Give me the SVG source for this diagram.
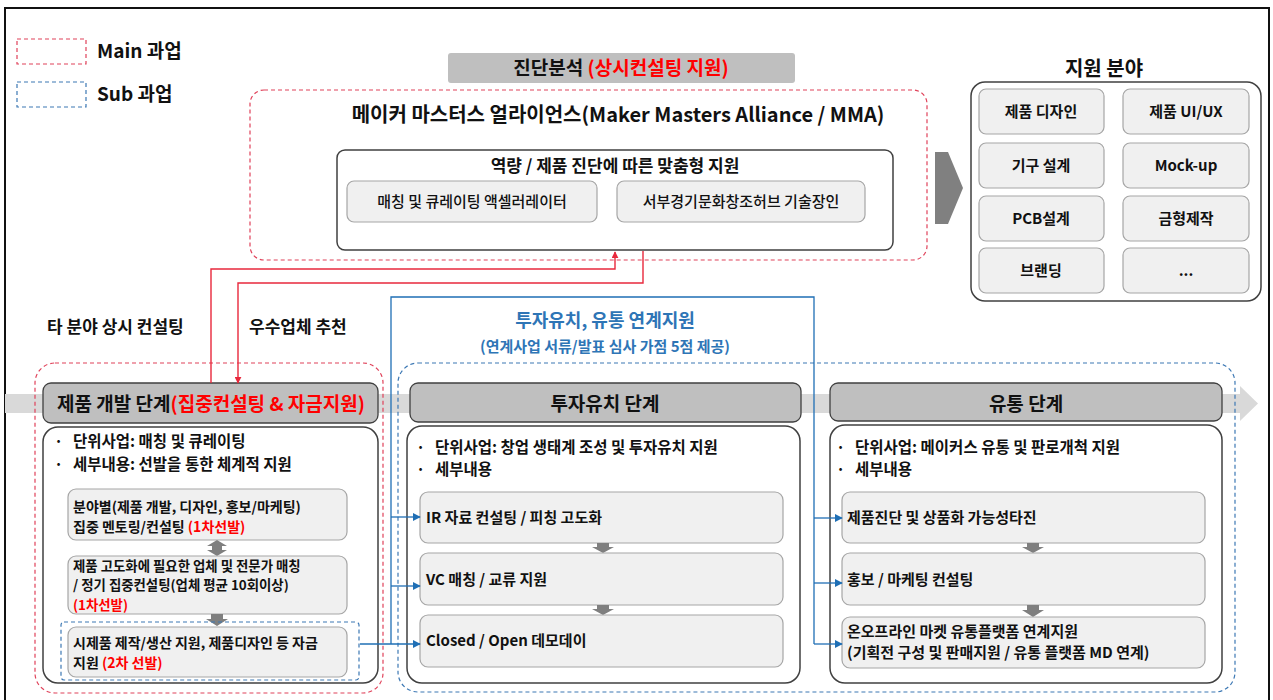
<svg xmlns="http://www.w3.org/2000/svg" width="1273" height="700" viewBox="0 0 1273 700">
<defs>
<style>
text{font-family:"Noto Sans CJK KR","Noto Sans",sans-serif;fill:#111;}
.b{font-weight:700;}
.red{fill:#ff0000;}
.blue{fill:#2e75b6;}
.hdr{fill:#bfbfbf;stroke:#404040;stroke-width:1.3;}
.wbox{fill:#ffffff;stroke:#404040;stroke-width:1.5;}
.sbox{fill:#f0f0f0;stroke:#a6a6a6;stroke-width:1.2;}
.rdash{fill:none;stroke:#e0425a;stroke-width:1.2;stroke-dasharray:4 3;}
.bdash{fill:none;stroke:#3c78b4;stroke-width:1.2;stroke-dasharray:4 3;}
.rline{fill:none;stroke:#e8283c;stroke-width:1.4;}
.bline{fill:none;stroke:#1f6fb5;stroke-width:1.3;}
.garr{fill:#7f7f7f;}
.t14{font-size:14px;}
.t15{font-size:15px;}
.t155{font-size:15.5px;}
</style>
<marker id="ra" viewBox="0 0 10 10" refX="9" refY="5" markerWidth="7" markerHeight="7" orient="auto" markerUnits="userSpaceOnUse"><path d="M0,0 L10,5 L0,10 Z" fill="#e8283c"/></marker>
<marker id="ba" viewBox="0 0 10 10" refX="9" refY="5" markerWidth="8" markerHeight="8" orient="auto" markerUnits="userSpaceOnUse"><path d="M0,0 L10,5 L0,10 Z" fill="#1f6fb5"/></marker>
</defs>
<rect x="0" y="0" width="1273" height="700" fill="#ffffff"/>
<rect x="5" y="8" width="1264" height="700" fill="none" stroke="#111" stroke-width="2"/>

<!-- legend -->
<g id="legend">
<rect x="17" y="39" width="69" height="25" class="rdash"/>
<text x="97" y="58" class="b" font-size="19">Main 과업</text>
<rect x="17" y="82" width="69" height="25" class="bdash"/>
<text x="97" y="101" class="b" font-size="19">Sub 과업</text>
</g>

<!-- background band -->
<g id="band">
<rect x="5" y="394" width="1240" height="19" fill="#d9d9d9"/>
<polygon points="1240,386 1258,403.5 1240,421" fill="#d9d9d9"/>
</g>

<!-- MMA -->
<g id="diag-label">
<rect x="448" y="53" width="347" height="30" rx="3" fill="#bfbfbf"/>
<text x="621" y="75" text-anchor="middle" class="b" font-size="19">진단분석 <tspan class="red">(상시컨설팅 지원)</tspan></text>
</g>
<g id="mma">
<rect x="250" y="90" width="677" height="170" rx="14" class="rdash"/>
<text x="618" y="122" text-anchor="middle" class="b" font-size="20">메이커 마스터스 얼라이언스(Maker Masters Alliance / MMA)</text>
<rect x="337" y="150" width="556" height="100" rx="8" class="wbox"/>
<text x="615" y="172" text-anchor="middle" class="b" font-size="17">역량 / 제품 진단에 따른 맞춤형 지원</text>
<rect x="347" y="181" width="250" height="41" rx="7" class="sbox"/>
<text x="472" y="207" text-anchor="middle" class="t15" font-weight="500">매칭 및 큐레이팅 액셀러레이터</text>
<rect x="617" y="181" width="248" height="41" rx="7" class="sbox"/>
<text x="741" y="207" text-anchor="middle" class="t15" font-weight="500">서부경기문화창조허브 기술장인</text>
</g>

<!-- big arrow -->
<g id="big-arrow">
<polygon points="935,152 948,152 963,188 948,224 935,224" fill="#808080"/>
</g>

<!-- support fields -->
<g id="support">
<text x="1104" y="76" text-anchor="middle" class="b" font-size="20">지원 분야</text>
<rect x="971" y="82" width="290" height="219" rx="14" class="wbox"/>
<rect x="979" y="89" width="125" height="45" rx="7" class="sbox"/>
<text x="1041" y="117" text-anchor="middle" class="b t15">제품 디자인</text>
<rect x="1123" y="89" width="126" height="45" rx="7" class="sbox"/>
<text x="1186" y="117" text-anchor="middle" class="b t15">제품 UI/UX</text>
<rect x="979" y="143" width="125" height="45" rx="7" class="sbox"/>
<text x="1041" y="171" text-anchor="middle" class="b t15">기구 설계</text>
<rect x="1123" y="143" width="126" height="45" rx="7" class="sbox"/>
<text x="1186" y="171" text-anchor="middle" class="b t15">Mock-up</text>
<rect x="979" y="196" width="125" height="45" rx="7" class="sbox"/>
<text x="1041" y="224" text-anchor="middle" class="b t15">PCB설계</text>
<rect x="1123" y="196" width="126" height="45" rx="7" class="sbox"/>
<text x="1186" y="224" text-anchor="middle" class="b t15">금형제작</text>
<rect x="979" y="248" width="125" height="45" rx="7" class="sbox"/>
<text x="1041" y="276" text-anchor="middle" class="b t15">브랜딩</text>
<rect x="1123" y="248" width="126" height="45" rx="7" class="sbox"/>
<text x="1186" y="276" text-anchor="middle" class="b t15">...</text>
</g>

<!-- labels -->
<g id="labels">
<text x="47" y="333" class="b" font-size="17">타 분야 상시 컨설팅</text>
<text x="249" y="333" class="b" font-size="17">우수업체 추천</text>
<text x="605" y="327" text-anchor="middle" class="b blue" font-size="18">투자유치, 유통 연계지원</text>
<text x="605" y="352" text-anchor="middle" class="b blue" font-size="15">(연계사업 서류/발표 심사 가점 5점 제공)</text>
</g>

<!-- containers -->
<rect x="35" y="363" width="348" height="330" rx="20" class="rdash"/>
<rect x="398" y="363" width="837" height="329" rx="20" class="bdash"/>

<!-- dev stage -->
<g id="dev-stage">
<rect x="43" y="383" width="335" height="40" rx="8" class="hdr"/>
<text x="57" y="411" class="b" font-size="19">제품 개발 단계<tspan class="red">(집중컨설팅 &amp; 자금지원)</tspan></text>
<rect x="43" y="427" width="335" height="256" rx="15" class="wbox"/>
<text class="b t155"><tspan x="54" y="447">·</tspan><tspan x="54" y="470">·</tspan></text>
<text class="b t155"><tspan x="73" y="447">단위사업: 매칭 및 큐레이팅</tspan><tspan x="73" y="470">세부내용: 선발을 통한 체계적 지원</tspan></text>
<rect x="68" y="489" width="279" height="51" rx="8" class="sbox"/>
<text class="b t14"><tspan x="73" y="512">분야별(제품 개발, 디자인, 홍보/마케팅)</tspan><tspan x="73" y="532">집중 멘토링/컨설팅 <tspan class="red">(1차선발)</tspan></tspan></text>
<path class="garr" d="M217,540 L227,546 H222 V550 H227 L217,556 L207,550 H212 V546 H207 Z"/>
<rect x="68" y="556" width="279" height="58" rx="8" class="sbox"/>
<text class="b" font-size="13.4"><tspan x="73" y="570.5">제품 고도화에 필요한 업체 및 전문가 매칭</tspan><tspan x="73" y="590.2">/ 정기 집중컨설팅(업체 평균 10회이상)</tspan><tspan x="73" y="609.9" class="red">(1차선발)</tspan></text>
<path class="garr" d="M211,614 H223 V619 H228 L217,626 L206,619 H211 Z"/>
<rect x="61" y="622" width="298" height="58" rx="3" class="bdash"/>
<rect x="68" y="627" width="279" height="50" rx="8" class="sbox"/>
<text class="b t14"><tspan x="73" y="648">시제품 제작/생산 지원, 제품디자인 등 자금</tspan><tspan x="73" y="668">지원 <tspan class="red">(2차 선발)</tspan></tspan></text>
</g>

<!-- invest stage -->
<g id="invest-stage">
<rect x="410" y="383" width="391" height="39" rx="8" class="hdr"/>
<text x="605" y="411" text-anchor="middle" class="b" font-size="19">투자유치 단계</text>
<rect x="407" y="426" width="393" height="257" rx="15" class="wbox"/>
<text class="b t155"><tspan x="416" y="453">·</tspan><tspan x="416" y="475">·</tspan></text>
<text class="b t155"><tspan x="435" y="453">단위사업: 창업 생태계 조성 및 투자유치 지원</tspan><tspan x="435" y="475">세부내용</tspan></text>
<rect x="420" y="492" width="363" height="51" rx="8" class="sbox"/>
<text x="426" y="523" class="b t15">IR 자료 컨설팅 / 피칭 고도화</text>
<path class="garr" d="M597,543 H609 V547 H614 L603,553 L592,547 H597 Z"/>
<rect x="420" y="553" width="363" height="52" rx="8" class="sbox"/>
<text x="426" y="585" class="b t15">VC 매칭 / 교류 지원</text>
<path class="garr" d="M597,605 H609 V609 H614 L603,615 L592,609 H597 Z"/>
<rect x="420" y="615" width="363" height="52" rx="8" class="sbox"/>
<text x="426" y="646" class="b t15">Closed / Open 데모데이</text>
</g>

<!-- distribution stage -->
<g id="dist-stage">
<rect x="830" y="383" width="392" height="38" rx="8" class="hdr"/>
<text x="1026" y="411" text-anchor="middle" class="b" font-size="19">유통 단계</text>
<rect x="830" y="425" width="392" height="258" rx="15" class="wbox"/>
<text class="b t155"><tspan x="836" y="453">·</tspan><tspan x="836" y="475">·</tspan></text>
<text class="b t155"><tspan x="855" y="453">단위사업: 메이커스 유통 및 판로개척 지원</tspan><tspan x="855" y="475">세부내용</tspan></text>
<rect x="842" y="492" width="363" height="51" rx="8" class="sbox"/>
<text x="847" y="523" class="b t15">제품진단 및 상품화 가능성타진</text>
<path class="garr" d="M1027,543 H1039 V547 H1044 L1033,553 L1022,547 H1027 Z"/>
<rect x="842" y="553" width="363" height="52" rx="8" class="sbox"/>
<text x="847" y="585" class="b t15">홍보 / 마케팅 컨설팅</text>
<path class="garr" d="M1027,605 H1039 V610 H1044 L1033,617 L1022,610 H1027 Z"/>
<rect x="842" y="617" width="363" height="51" rx="8" class="sbox"/>
<text class="b t15"><tspan x="847" y="637">온오프라인 마켓 유통플랫폼 연계지원</tspan><tspan x="847" y="658">(기획전 구성 및 판매지원 / 유통 플랫폼 MD 연계)</tspan></text>
</g>

<!-- connectors -->
<g id="connectors">
<path class="rline" d="M211,383 V269 H615 V252" marker-end="url(#ra)"/>
<path class="rline" d="M643,251 V283 H238 V383" marker-end="url(#ra)"/>
<path class="bline" d="M391,644 V297 H814 V644"/>
<path class="bline" d="M391,517 H420" marker-end="url(#ba)"/>
<path class="bline" d="M391,586 H420" marker-end="url(#ba)"/>
<path class="bline" d="M360,644 H420" marker-end="url(#ba)"/>
<path class="bline" d="M814,518 H842" marker-end="url(#ba)"/>
<path class="bline" d="M814,583 H842" marker-end="url(#ba)"/>
<path class="bline" d="M814,644 H842" marker-end="url(#ba)"/>
</g>
</svg>
